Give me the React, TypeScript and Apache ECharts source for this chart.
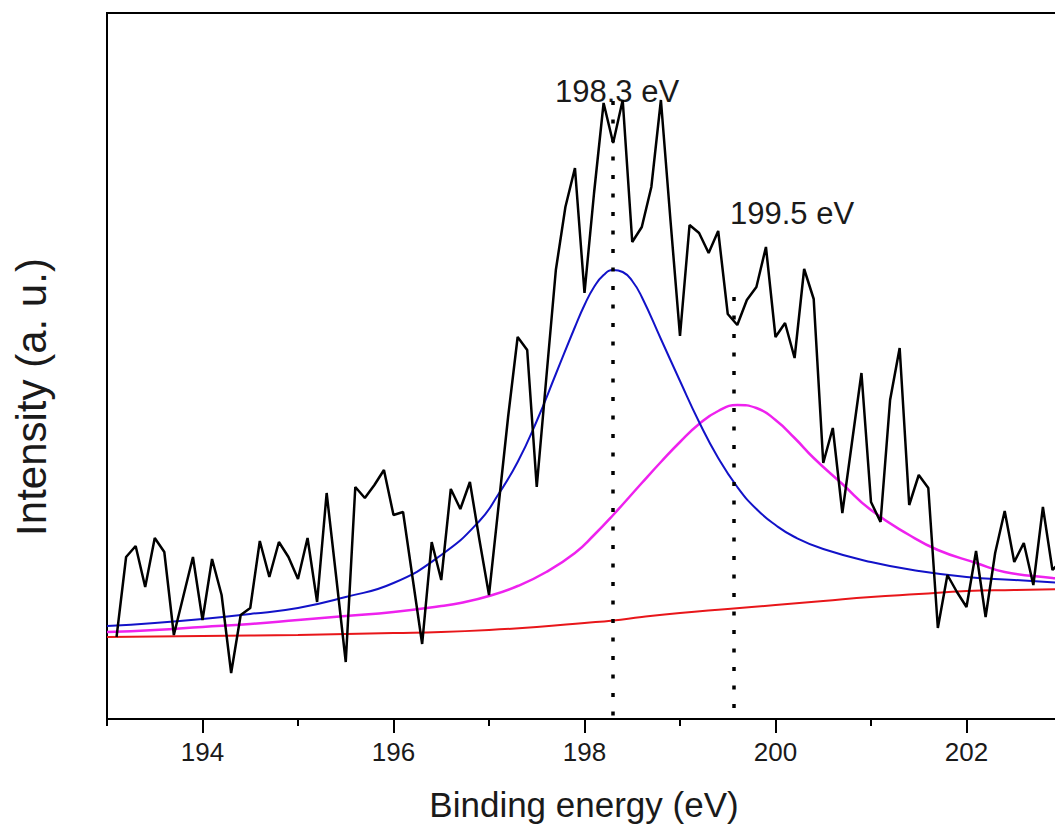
import React, { useEffect, useRef } from "react";
import * as echarts from "echarts";

// Raw XPS scan (binding energy in eV, intensity in a.u.)
const scanEnergy = [
  193.1, 193.2, 193.3, 193.4, 193.5, 193.6, 193.7, 193.8, 193.9,
  194.0, 194.1, 194.2, 194.3, 194.4, 194.5, 194.6, 194.7, 194.8, 194.9,
  195.0, 195.1, 195.2, 195.3, 195.4, 195.5, 195.6, 195.7, 195.8, 195.9,
  196.0, 196.1, 196.2, 196.3, 196.4, 196.5, 196.6, 196.7, 196.8, 196.9,
  197.0, 197.1, 197.2, 197.3, 197.4, 197.5, 197.6, 197.7, 197.8, 197.9,
  198.0, 198.1, 198.2, 198.3, 198.4, 198.5, 198.6, 198.7, 198.8, 198.9,
  199.0, 199.1, 199.2, 199.3, 199.4, 199.5, 199.6, 199.7, 199.8, 199.9,
  200.0, 200.1, 200.2, 200.3, 200.4, 200.5, 200.6, 200.7, 200.8, 200.9,
  201.0, 201.1, 201.2, 201.3, 201.4, 201.5, 201.6, 201.7, 201.8, 201.9,
  202.0, 202.1, 202.2, 202.3, 202.4, 202.5, 202.6, 202.7, 202.8, 202.9,
  203.0,
];
const scanIntensity = [
  82, 162, 173, 132, 181, 167, 84, 123, 162,
  99, 160, 124, 46, 104, 111, 178, 142, 177, 162,
  140, 181, 117, 226, 142, 57, 232, 221, 234, 249,
  204, 207, 141, 75, 177, 139, 230, 210, 237, 179,
  124, 213, 302, 382, 369, 232, 341, 449, 512, 551,
  426, 526, 616, 576, 619, 477, 492, 532, 619, 499,
  383, 494, 486, 466, 488, 405, 394, 419, 432, 472,
  382, 396, 361, 450, 420, 256, 291, 206, 276, 346,
  217, 197, 319, 371, 214, 244, 231, 91, 144, 127,
  112, 168, 102, 166, 208, 157, 176, 134, 212, 149,
  159,
];

// Fitted component 1 (blue, 198.3 eV)
const fitAEnergy = [
  193.0, 193.5, 194.0, 194.5, 195.0, 195.5, 196.0, 196.5, 196.9, 197.1,
  197.3, 197.5, 197.7, 197.9, 198.0, 198.1, 198.2, 198.3, 198.4, 198.5,
  198.6, 198.8, 199.0, 199.2, 199.4, 199.6, 199.8, 200.0, 200.2, 200.5,
  201.0, 201.5, 202.0, 202.5, 203.0,
];
const fitAIntensity = [
  93, 96, 100, 105, 111, 122, 136, 164, 198, 225,
  257, 298, 345, 392, 414, 432, 444, 449, 447, 438,
  422, 380, 338, 297, 261, 232, 210, 194, 182, 170,
  157, 148, 142, 139, 136,
];

// Fitted component 2 (magenta, 199.5 eV)
const fitBEnergy = [
  193.0, 193.5, 194.0, 194.5, 195.0, 195.5, 196.0, 196.5, 196.7, 197.0,
  197.3, 197.6, 197.9, 198.1, 198.3, 198.6, 198.8, 199.0, 199.2, 199.4,
  199.6, 199.8, 200.0, 200.2, 200.4, 200.7, 201.0, 201.4, 201.7, 202.1,
  202.4, 202.9, 203.0,
];
const fitBIntensity = [
  87, 89, 92, 95, 99, 103, 107, 113, 116, 123,
  133, 147, 166, 184, 204, 236, 257, 277, 295, 308,
  314, 311, 299, 281, 261, 235, 209, 184, 169, 156,
  147, 141, 140,
];

// Shirley background (red)
const bgEnergy = [
  193.0, 194.0, 195.0, 196.0, 196.5, 197.0, 197.5, 198.0, 198.3, 198.6,
  199.0, 199.5, 200.0, 200.5, 201.0, 201.5, 202.0, 202.5, 203.0,
];
const bgIntensity = [
  82, 83, 84, 86, 87, 89, 92, 96, 98.5, 102,
  106, 110, 114, 118, 122, 125, 128, 129, 130,
];

const peakEnergy = [198.3, 199.56];
const peakLineTop = [618, 422];
const peakLabels = ["198.3 eV", "199.5 eV"];

const majorTicks = [194, 196, 198, 200, 202];
const xMin = 193;
const xMax = 203;
const yMin = 0;
const yMax = 706;

const FONT = "'Liberation Sans', Arial, Helvetica, sans-serif";

const pairs = (xs: number[], ys: number[]) => xs.map((x, i) => [x, ys[i]]);

export default function App() {
  const ref = useRef<HTMLDivElement>(null);

  useEffect(() => {
    if (!ref.current) return;
    const chart = echarts.init(ref.current, undefined, { renderer: "svg" });

    const option: any = {
      animation: false,
      backgroundColor: "#ffffff",
      grid: {
        left: 107,
        top: 13,
        width: 955,
        height: 706,
        show: true,
        borderColor: "#000",
        borderWidth: 2,
        backgroundColor: "transparent",
      },
      xAxis: [
        {
          type: "value",
          position: "bottom",
          min: xMin,
          max: xMax,
          interval: 1,
          axisLine: { show: true, onZero: false, lineStyle: { color: "#000", width: 2 } },
          axisTick: { show: true, length: 7, lineStyle: { color: "#000", width: 2 } },
          axisLabel: { show: false },
          splitLine: { show: false },
        },
        {
          type: "value",
          position: "bottom",
          min: xMin,
          max: xMax,
          axisLine: { show: false, onZero: false },
          axisTick: {
            show: true,
            length: 14,
            customValues: majorTicks,
            lineStyle: { color: "#000", width: 2 },
          },
          axisLabel: {
            show: true,
            customValues: majorTicks,
            margin: 20,
            fontSize: 26,
            color: "#1a1a1a",
            fontFamily: FONT,
          },
          splitLine: { show: false },
        },
      ],
      yAxis: {
        type: "value",
        min: yMin,
        max: yMax,
        axisLine: { show: true, lineStyle: { color: "#000", width: 2 } },
        axisTick: { show: false },
        axisLabel: { show: false },
        splitLine: { show: false },
      },
      graphic: [
        {
          type: "text",
          x: 584,
          y: 804,
          style: {
            text: "Binding energy (eV)",
            fontSize: 35,
            fontFamily: FONT,
            fill: "#1a1a1a",
            align: "center",
            verticalAlign: "middle",
          },
        },
        {
          type: "text",
          x: 31,
          y: 397,
          rotation: Math.PI / 2,
          style: {
            text: "Intensity (a. u.)",
            fontSize: 42,
            fontFamily: FONT,
            fill: "#1a1a1a",
            align: "center",
            verticalAlign: "middle",
          },
        },
        {
          type: "text",
          x: 555,
          y: 91,
          style: {
            text: peakLabels[0],
            fontSize: 31,
            fontFamily: FONT,
            fill: "#1a1a1a",
            align: "left",
            verticalAlign: "middle",
          },
        },
        {
          type: "text",
          x: 730,
          y: 213,
          style: {
            text: peakLabels[1],
            fontSize: 31,
            fontFamily: FONT,
            fill: "#1a1a1a",
            align: "left",
            verticalAlign: "middle",
          },
        },
      ],
      series: [
        {
          type: "line",
          name: "background",
          data: pairs(bgEnergy, bgIntensity),
          smooth: true,
          showSymbol: false,
          lineStyle: { color: "#e8161a", width: 2 },
          z: 2,
        },
        {
          type: "line",
          name: "peak 2",
          data: pairs(fitBEnergy, fitBIntensity),
          smooth: true,
          showSymbol: false,
          lineStyle: { color: "#ee22ee", width: 2.5 },
          z: 3,
        },
        {
          type: "line",
          name: "peak 1",
          data: pairs(fitAEnergy, fitAIntensity),
          smooth: true,
          showSymbol: false,
          lineStyle: { color: "#1212c8", width: 2 },
          z: 4,
        },
        {
          type: "line",
          name: "raw",
          data: pairs(scanEnergy, scanIntensity),
          showSymbol: false,
          lineStyle: { color: "#000", width: 2.5 },
          z: 5,
          markLine: {
            silent: true,
            symbol: "none",
            label: { show: false },
            lineStyle: { color: "#000", width: 3.5, type: [4, 14.5] },
            data: peakEnergy.map((e, i) => [
              { coord: [e, peakLineTop[i]] },
              { coord: [e, yMin] },
            ]),
          },
        },
      ],
    };

    chart.setOption(option);
    return () => chart.dispose();
  }, []);

  return (
    <div
      style={{
        position: "fixed",
        left: 0,
        top: 0,
        width: 1055,
        height: 829,
        overflow: "hidden",
        background: "#fff",
      }}
    >
      <div ref={ref} style={{ width: 1080, height: 829 }} />
    </div>
  );
}
